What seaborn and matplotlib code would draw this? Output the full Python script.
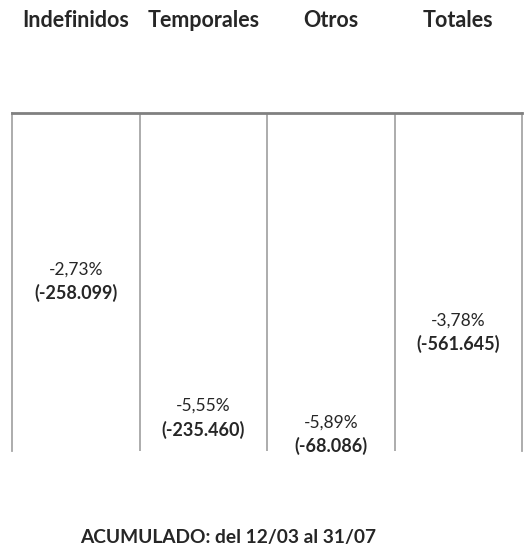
import matplotlib
matplotlib.use("Agg")
import matplotlib.pyplot as plt
import seaborn as sns
import pandas as pd

# datos
categorias = ["Indefinidos", "Temporales", "Otros", "Totales"]
variacion_pct = [-2.73, -5.55, -5.89, -3.78]
etiquetas_pct = ["-2,73%", "-5,55%", "-5,89%", "-3,78%"]
etiquetas_abs = ["(-258.099)", "(-235.460)", "(-68.086)", "(-561.645)"]
titulo = "ACUMULADO: del 12/03 al 31/07"

df = pd.DataFrame({"categoria": categorias, "variacion": variacion_pct})

sns.set_style("white")
plt.rcParams["font.family"] = ["Lato", "DejaVu Sans"]

fig = plt.figure(figsize=(5.25, 5.57), dpi=100)
ax = fig.add_axes([12 / 525, 1 - 451 / 557, 510 / 525, 338 / 557])

sns.barplot(data=df, x="categoria", y="variacion", color="white", width=1.0,
            linewidth=0, ax=ax)
for p in ax.patches:
    p.set_alpha(0)

ax.set_ylim(-7, 0)
ax.set_xlim(-0.5, len(categorias) - 0.5)
ax.set_ylabel("")
ax.set_xlabel("")
ax.set_yticks([])

# categorias arriba
ax.xaxis.tick_top()
ax.tick_params(axis="x", length=0, pad=59)
ax.set_xticks(range(len(categorias)))
ax.set_xticklabels(categorias, fontsize=15.5, fontweight="bold")

# lineas separadoras
ax.set_xticks([i + 0.5 for i in range(len(categorias) - 1)], minor=True)
ax.grid(axis="x", which="minor", color="#a6a6a6", linewidth=1.3)
ax.grid(axis="x", which="major", visible=False)
ax.tick_params(axis="x", which="minor", length=0)

ax.spines["top"].set_color("#808080")
ax.spines["top"].set_linewidth(2)
ax.spines["bottom"].set_visible(False)
for lado in ["left", "right"]:
    ax.spines[lado].set_color("#a6a6a6")
    ax.spines[lado].set_linewidth(1.3)

# etiquetas de datos
for i, p in enumerate(ax.patches):
    x = p.get_x() + p.get_width() / 2
    y = variacion_pct[i]
    ax.annotate(etiquetas_pct[i], (x, y), xytext=(0, -18), textcoords="offset points",
                ha="center", va="center", fontsize=12.5)
    ax.annotate(etiquetas_abs[i], (x, y), xytext=(0, -35), textcoords="offset points",
                ha="center", va="center", fontsize=13, fontweight="bold")

fig.text(228 / 525, 1 - 538 / 557, titulo, ha="center", va="center",
         fontsize=13.8, fontweight="bold")

fig.savefig("out.png", dpi=100, facecolor="white")
